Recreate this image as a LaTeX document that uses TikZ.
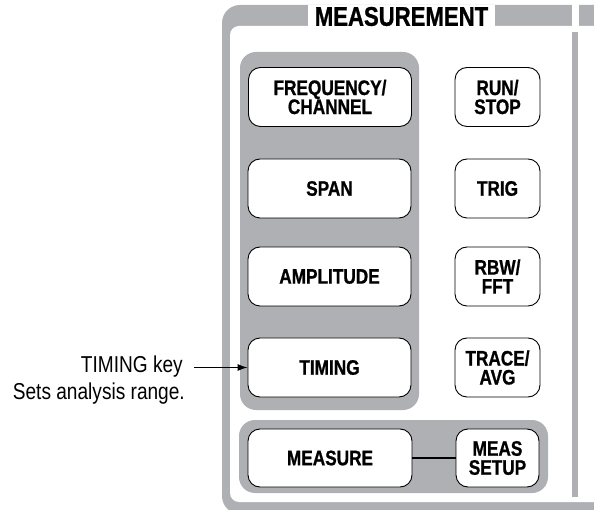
\documentclass[tikz,border=0pt]{standalone}
\usepackage{fontspec}
\newfontfamily\panelfont[FakeStretch=0.83]{Liberation Sans}
\newfontfamily\keyfont[FakeStretch=0.82, FakeBold=0.9]{Liberation Sans Bold}
\usepackage{xcolor}
\definecolor{panel}{HTML}{AEB0B3}
\usepackage{tikz}
\usetikzlibrary{arrows.meta,positioning}

\tikzset{
  keybox/.style={draw, fill=white, line width=0.9pt, rounded corners=12pt,
    minimum height=59pt, inner sep=0pt, align=center,
    font=\keyfont\fontsize{21}{19}\selectfont},
  widekey/.style={keybox, minimum width=163pt},
  narrowkey/.style={keybox, minimum width=85pt},
  callout/.style={inner sep=0pt, font=\panelfont\fontsize{23}{27}\selectfont}
}

\begin{document}
\begin{tikzpicture}[x=1pt, y=-1pt]
  \useasboundingbox (0,0) rectangle (594,510);
  \clip (0,0) rectangle (594,510);

  % Outer panel frame
  \fill[panel, rounded corners=18pt] (222,5) rectangle (700,514);
  \fill[white, rounded corners=9pt] (230,26) rectangle (700,502);
  \fill[white] (572,0) rectangle (579,27);
  \fill[panel] (572,32) rectangle (578,497);
  \node[fill=white, minimum width=187pt, minimum height=22pt, inner sep=0pt,
    font=\keyfont\fontsize{27}{27}\selectfont] (title) at (401.5,16.5) {MEASUREMENT};

  % Key groups
  \fill[panel, rounded corners=16pt] (240,52) rectangle (419,410);
  \fill[panel, rounded corners=16pt] (239,420) rectangle (548,493);

  % Left column
  \node[widekey] (freq) at (330,97) {FREQUENCY/\\CHANNEL};
  \node[widekey] (span) at (329.5,188.5) {SPAN};
  \node[widekey] (ampl) at (329.5,276.5) {AMPLITUDE};
  \node[widekey] (timing) at (329.5,367.5) {TIMING};

  % Right column
  \node[narrowkey] (runstop) at (497.5,97) {RUN/\\STOP};
  \node[narrowkey] (trig) at (497.5,188.5) {TRIG};
  \node[narrowkey] (rbw) at (497.5,276.5) {RBW/\\FFT};
  \node[narrowkey] (trace) at (497.5,367.5) {TRACE/\\AVG};

  % Measure row
  \node[widekey, minimum width=164pt, minimum height=58pt] (measure) at (330,458) {MEASURE};
  \node[narrowkey, minimum width=83pt, minimum height=58pt] (meassetup) at (497.5,458) {MEAS\\SETUP};
  \draw[line width=1.6pt] (measure) -- (meassetup);

  % Callout
  \node[callout, anchor=base east] (keylbl) at (183,372.3) {TIMING key};
  \node[callout, anchor=base east] (rangelbl) at (185,399.3) {Sets analysis range.};
  \draw[-{Latex[length=10pt,width=7pt]}, line width=1.1pt, shorten <=11pt]
    (timing.west -| keylbl.east) -- (timing.west);
\end{tikzpicture}
\end{document}
